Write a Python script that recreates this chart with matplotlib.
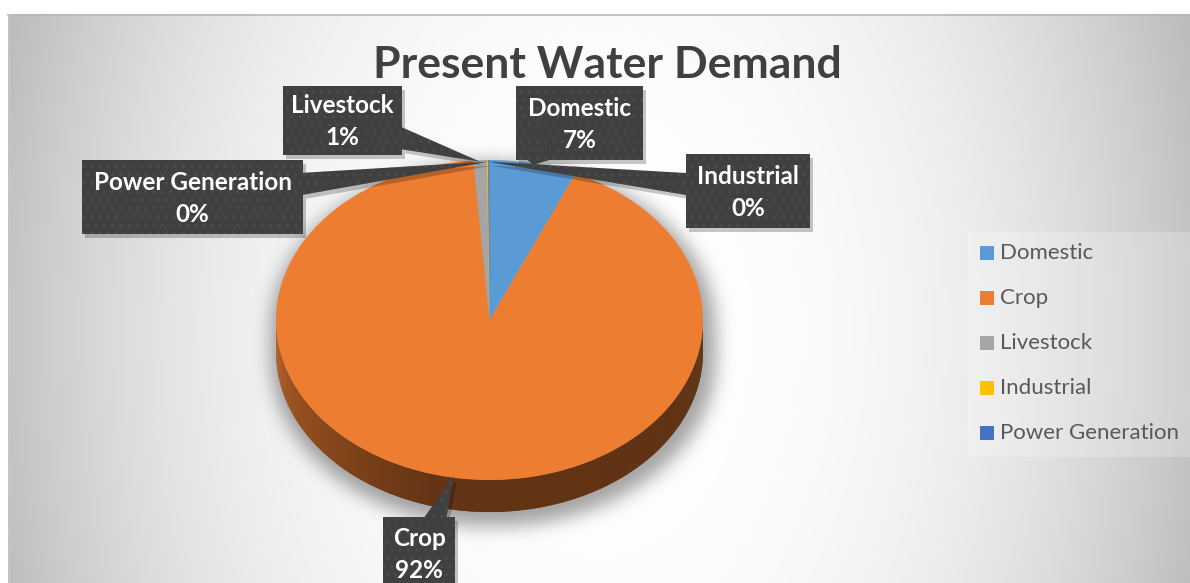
import numpy as np
import matplotlib
matplotlib.use("Agg")
import matplotlib.pyplot as plt
from matplotlib.patches import Rectangle, Polygon
from matplotlib.collections import PolyCollection

# ---- data ----
categories = ["Domestic", "Crop", "Livestock", "Industrial", "Power Generation"]
shares = [6.6, 92.2, 1.0, 0.1, 0.1]
slice_colors = ["#5B9BD5", "#ED7D31", "#A5A5A5", "#FFC000", "#4472C4"]
chart_title = "Present Water Demand"

# ---- layout (pixels) ----
W, H = 1190, 583
CX, CY, RX, RY, DEPTH = 489.5, 320.0, 213.5, 160.0, 32.0
label_boxes = {
    "Domestic": (516, 86, 643, 160),
    "Crop": (383, 517, 455, 591),
    "Livestock": (283, 86, 402, 155),
    "Industrial": (686, 154, 810, 228),
    "Power Generation": (82, 160, 303, 234),
}

plt.rcParams["font.family"] = ["Lato", "DejaVu Sans"]
plt.rcParams["hatch.linewidth"] = 0.6

fig = plt.figure(figsize=(W / 100, H / 100), dpi=100)
fig.patch.set_facecolor("white")

# ---- background with radial grey gradient ----
bg = fig.add_axes([0, 0, 1, 1])
x0c, y0c = 8, 14
yy, xx = np.mgrid[y0c:H, x0c:W] + 0.5
dist = np.sqrt(((xx - 600) / 600) ** 2 + ((yy - 330) / 900) ** 2)
v = 1 - 0.24 * np.clip(dist, 0, 1.1) ** 2.5
bg.imshow(np.dstack([v, v, v]), extent=(x0c, W, H, y0c), interpolation="bilinear", zorder=0)
bg.plot([x0c, W], [y0c + 0.5, y0c + 0.5], color="#b8b8b8", lw=1.2, zorder=1)
bg.plot([x0c + 0.5, x0c + 0.5], [y0c, H], color="#c8c8c8", lw=1, zorder=1)

# soft shadow under the pie
gy, gx = np.mgrid[0:H, 0:W] + 0.5
sx, sy = CX + 4, CY + 8
dyy = gy - np.clip(gy, sy, sy + DEPTH)
mask = (((gx - sx) / (RX * 1.04)) ** 2 + (dyy / (RY * 1.04)) ** 2 <= 1).astype(float)
sig = 9
k = np.exp(-0.5 * (np.arange(-3 * sig, 3 * sig + 1) / sig) ** 2)
k /= k.sum()
mask = np.apply_along_axis(lambda r: np.convolve(r, k, mode="same"), 1, mask)
mask = np.apply_along_axis(lambda c: np.convolve(c, k, mode="same"), 0, mask)
shadow = np.zeros((H, W, 4))
shadow[..., 3] = 0.36 * mask
bg.imshow(shadow, extent=(0, W, H, 0), interpolation="bilinear", zorder=2)
bg.set_aspect("auto")
bg.set_xlim(0, W)
bg.set_ylim(H, 0)
bg.axis("off")

# ---- pie (top face) ----
pax = fig.add_axes([(CX - 1.5 * RX) / W, 1 - (CY + 1.5 * RY) / H, 3 * RX / W, 3 * RY / H])
wedges, _ = pax.pie(shares, colors=slice_colors, startangle=90, counterclock=False,
                    radius=1, center=(0, 0), wedgeprops=dict(linewidth=0))
for w in wedges:
    w.set_zorder(3)
pax.set_aspect("auto")
pax.set_xlim(-1.5, 1.5)
pax.set_ylim(-1.5, 1.5)
pax.axis("off")
pax.patch.set_visible(False)

# ---- pie side wall (front half) ----
D = DEPTH / RY
quads, qcols = [], []
steps = np.linspace(180, 360, 721)
for a, b in zip(steps[:-1], steps[1:]):
    m = 0.5 * (a + b)
    for w in wedges:
        t1, t2 = w.theta1, w.theta2
        if (m - t1) % 360 <= (t2 - t1):
            ra, rb = np.radians(a), np.radians(b + 0.3)
            quads.append([(np.cos(ra), np.sin(ra)), (np.cos(rb), np.sin(rb)),
                          (np.cos(rb), np.sin(rb) - D), (np.cos(ra), np.sin(ra) - D)])
            f = np.interp(m, [180, 200, 255, 360], [0.80, 0.66, 0.42, 0.40])
            fc = np.array(w.get_facecolor()[:3]) * f
            qcols.append(tuple(fc) + (1.0,))
            break
pax.add_collection(PolyCollection(quads, facecolors=qcols, edgecolors="none", zorder=2))

# ---- overlay for labels / legend / title ----
ov = fig.add_axes([0, 0, 1, 1])
ov.set_xlim(0, W)
ov.set_ylim(H, 0)
ov.axis("off")
ov.patch.set_visible(False)


def to_px(pt):
    return ov.transData.inverted().transform(pax.transData.transform(pt))


def callout(box, tip, hw=11):
    x0, y0, x1, y1 = box
    cx, cy = (x0 + x1) / 2, (y0 + y1) / 2
    dx, dy = tip[0] - cx, tip[1] - cy
    tx = (x1 - x0) / 2 / abs(dx) if dx else np.inf
    ty = (y1 - y0) / 2 / abs(dy) if dy else np.inf
    pts = [(x0, y0), (x1, y0), (x1, y1), (x0, y1)]
    if tx < ty:
        ye = np.clip(cy + tx * dy, y0 + hw, y1 - hw)
        if dx > 0:
            ins = [(x1, ye - hw), tuple(tip), (x1, ye + hw)]
            return pts[:2] + ins + pts[2:]
        ins = [(x0, ye + hw), tuple(tip), (x0, ye - hw)]
        return pts + ins
    xe = np.clip(cx + ty * dx, x0 + hw, x1 - hw)
    if dy < 0:
        ins = [(xe - hw, y0), tuple(tip), (xe + hw, y0)]
        return pts[:1] + ins + pts[1:]
    ins = [(xe + hw, y1), tuple(tip), (xe - hw, y1)]
    return pts[:3] + ins + pts[3:]


total = float(sum(shares))
for name, val, w in zip(categories, shares, wedges):
    mid = np.radians(0.5 * (w.theta1 + w.theta2))
    tip = to_px((0.99 * np.cos(mid), 0.99 * np.sin(mid)))
    box = label_boxes[name]
    poly = callout(box, tip)
    shp = [(px + 3, py + 4) for px, py in poly]
    ov.add_patch(Polygon(shp, closed=True, facecolor="black", alpha=0.22, lw=0, zorder=4))
    ov.add_patch(Polygon(poly, closed=True, facecolor="#404040", lw=0, zorder=5))
    ov.add_patch(Polygon(poly, closed=True, fill=False, hatch="..", edgecolor="#4f4f4f",
                         lw=0, zorder=5.1))
    bx = (box[0] + box[2]) / 2
    by = (box[1] + box[3]) / 2
    ov.text(bx, by - 15, name, color="white", fontsize=17.5, fontweight="bold",
            ha="center", va="center", zorder=6)
    ov.text(bx, by + 17, f"{val / total * 100:.0f}%", color="white", fontsize=17.5,
            fontweight="bold", ha="center", va="center", zorder=6)

# ---- title ----
ov.text(607, 65, chart_title, fontsize=32, fontweight="bold", color="#404040",
        ha="center", va="center", zorder=6)

# ---- legend ----
ov.add_patch(Rectangle((968, 232), W - 968, 225, facecolor="white", alpha=0.22, lw=0, zorder=3))
for i, (name, col) in enumerate(zip(categories, slice_colors)):
    y = 253 + 45 * i
    ov.add_patch(Rectangle((980, y - 7), 14, 14, facecolor=col, lw=0, zorder=6))
    ov.text(1000, y, name, fontsize=16, color="#595959", ha="left", va="center", zorder=6)

fig.savefig("out.png", dpi=100, facecolor="white")
